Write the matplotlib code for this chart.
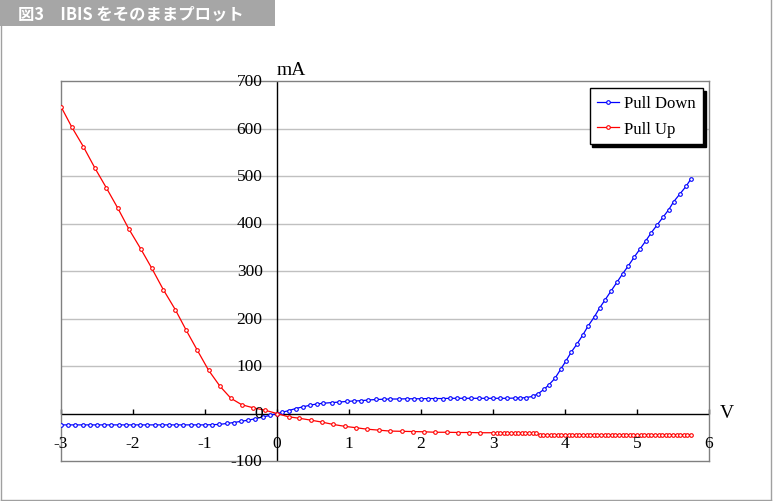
import matplotlib
matplotlib.use("Agg")
from matplotlib import pyplot as plt
from matplotlib.patches import Rectangle
from matplotlib.lines import Line2D

# Pull Down (blue) : V, mA
pd_v = [-3.0, -2.9, -2.8, -2.7, -2.6, -2.5, -2.4, -2.3, -2.2, -2.1,
        -2.0, -1.9, -1.8, -1.7, -1.6, -1.5, -1.4, -1.3, -1.2, -1.1,
        -1.0, -0.9, -0.8, -0.7, -0.6, -0.5, -0.4, -0.3, -0.2, -0.1, 0.0,
        0.07, 0.16, 0.26, 0.36, 0.46, 0.55, 0.64, 0.76, 0.86, 0.97,
        1.07, 1.17, 1.27, 1.38, 1.48, 1.57, 1.7, 1.8, 1.9, 2.0,
        2.1, 2.2, 2.3, 2.4, 2.5, 2.6, 2.7, 2.8, 2.9, 3.0,
        3.1, 3.2, 3.3, 3.38, 3.46, 3.55, 3.63, 3.71, 3.78, 3.86,
        3.94, 4.01, 4.09, 4.17, 4.25, 4.32, 4.41, 4.48, 4.56, 4.64,
        4.72, 4.80, 4.88, 4.96, 5.04, 5.12, 5.20, 5.28, 5.36, 5.44,
        5.51, 5.60, 5.68, 5.75]
pd_ma = [-24, -24, -24, -24, -24, -24, -24, -24, -24, -24,
         -24, -24, -24, -24, -24, -24, -24, -24, -24, -24,
         -24, -23.5, -23, -21, -19, -16.5, -14, -11, -7.5, -4, 0,
         2.5, 6, 10.5, 14, 17.5, 20, 21.5, 23, 24, 25.5,
         26.3, 27, 28.4, 29.5, 30, 30.5, 30.5, 31, 31, 31,
         31.5, 31.5, 31.5, 32, 32, 32, 32, 32, 32, 32,
         32, 32, 32.5, 32.5, 33.5, 36, 42, 51, 61, 74,
         93, 110, 130, 147, 166, 184, 204, 222, 240, 258,
         276, 294, 311, 329, 346, 363, 381, 397, 413, 429,
         446, 463, 478, 494]

# Pull Up (red) : V, mA
pu_v = [-3.0, -2.85, -2.69, -2.53, -2.37, -2.21, -2.06, -1.89, -1.74, -1.58,
        -1.41, -1.26, -1.11, -0.95, -0.79, -0.64, -0.49, -0.33, -0.17, 0.0,
        0.16, 0.31, 0.47, 0.62, 0.78, 0.94, 1.10, 1.25, 1.41, 1.57,
        1.73, 1.89, 2.04, 2.20, 2.36, 2.52, 2.67, 2.82,
        3.00, 3.05, 3.10, 3.15, 3.20, 3.25, 3.30, 3.35, 3.40, 3.45,
        3.50, 3.55, 3.60, 3.65, 3.70, 3.75, 3.80, 3.85, 3.90, 3.95,
        4.00, 4.05, 4.10, 4.15, 4.20, 4.25, 4.30, 4.35, 4.40, 4.45,
        4.50, 4.55, 4.60, 4.65, 4.70, 4.75, 4.80, 4.85, 4.90, 4.95,
        5.00, 5.05, 5.10, 5.15, 5.20, 5.25, 5.30, 5.35, 5.40, 5.45,
        5.50, 5.55, 5.60, 5.65, 5.70, 5.75]
pu_ma = [646, 603, 562, 517, 475, 432, 389, 346, 306, 261,
         218, 175, 134, 91, 57, 32, 18.5, 12, 7, 0,
         -7, -10, -14, -18, -23, -27, -30, -33, -35, -37,
         -37.5, -38, -38.5, -39.5, -39.5, -40, -40, -40.5,
         -40.5, -40.5, -40.5, -40.5, -40.5, -41, -41, -41, -41, -41,
         -41, -41, -41, -44.5, -44.5, -44.5, -44.5, -44.5, -44.5, -44.5,
         -44.5, -44.5, -44.5, -44.5, -44.5, -44.5, -44.5, -44.5, -44.5, -44.5,
         -44.5, -44.5, -44.5, -44.5, -44.5, -44.5, -44.5, -44.5, -44.5, -44.5,
         -44.5, -44.5, -44.5, -44.5, -44.5, -44.5, -44.5, -44.5, -44.5, -44.5,
         -44.5, -44.5, -44.5, -44.5, -44.5, -44.5]

x_ticks = [-3, -2, -1, 0, 1, 2, 3, 4, 5, 6]
y_ticks = [-100, 0, 100, 200, 300, 400, 500, 600, 700]
title = "図3　IBIS をそのままプロット"

serif = "Liberation Serif"

fig = plt.figure(figsize=(7.74, 5.02), dpi=100)
fig.patch.set_facecolor("white")

# title bar + outer frame
fig.add_artist(Rectangle((0, 1 - 27 / 502), 275 / 774, 27 / 502, transform=fig.transFigure,
                         facecolor="#a6a6a6", edgecolor="none"))
fig.text(18 / 774, 1 - 14 / 502, title, color="white", fontsize=11.8, fontweight="bold",
         family=["Noto Sans CJK JP", "DejaVu Sans"], ha="left", va="center")
brd = "#a0a0a0"
fig.add_artist(Line2D([0.5 / 774, 0.5 / 774], [1 / 502, 1 - 27 / 502], transform=fig.transFigure, color=brd, lw=1))
fig.add_artist(Line2D([771 / 774, 771 / 774], [1 / 502, 1], transform=fig.transFigure, color=brd, lw=1))
fig.add_artist(Line2D([0.5 / 774, 771 / 774], [1 / 502, 1 / 502], transform=fig.transFigure, color=brd, lw=1))

ax = fig.add_axes([61 / 774, 40 / 502, 648 / 774, 380 / 502])
ax.set_xlim(-3, 6)
ax.set_ylim(-100, 700)
ax.set_xticks([])
ax.set_yticks([])
for s in ax.spines.values():
    s.set_color("#808080")
    s.set_linewidth(1)

for y in y_ticks[1:-1]:
    if y != 0:
        ax.axhline(y, color="#c0c0c0", lw=1, zorder=1)
ax.axhline(0, color="black", lw=1, zorder=2)
ax.axvline(0, color="black", lw=1, zorder=2)
ax.plot(x_ticks, [0] * len(x_ticks), linestyle="none", marker=2, markersize=3.8,
        mew=1, color="black", zorder=2, clip_on=False)

ax.plot(pd_v, pd_ma, color="#0000ff", lw=0.9, marker="o", markersize=2.6,
        mfc="white", mew=0.8, label="Pull Down", zorder=3)
ax.plot(pu_v, pu_ma, color="#ff0000", lw=0.9, marker="o", markersize=2.6,
        mfc="white", mew=0.8, label="Pull Up", zorder=3)

for x in x_ticks:
    ax.text(x, -62, str(x), ha="center", va="center", fontsize=12.5, family=serif)
for y in y_ticks:
    ax.text(-0.2, y, str(y), ha="right", va="center", fontsize=12.5, family=serif)
ax.text(0.0, 706, "mA", ha="left", va="bottom", fontsize=14, family=serif)
ax.text(6.15, 3, "V", ha="left", va="center", fontsize=14, family=serif)

leg = ax.legend(loc="upper right", bbox_to_anchor=(0.9907, 0.9816), borderaxespad=0,
                prop={"family": serif, "size": 12}, fancybox=False,
                shadow={"color": "black", "alpha": 1}, handlelength=1.3,
                handletextpad=0.3, labelspacing=0.55, borderpad=0.45, numpoints=1)
leg.get_frame().set_edgecolor("black")
leg.get_frame().set_linewidth(1)

fig.savefig("out.png", dpi=100)
